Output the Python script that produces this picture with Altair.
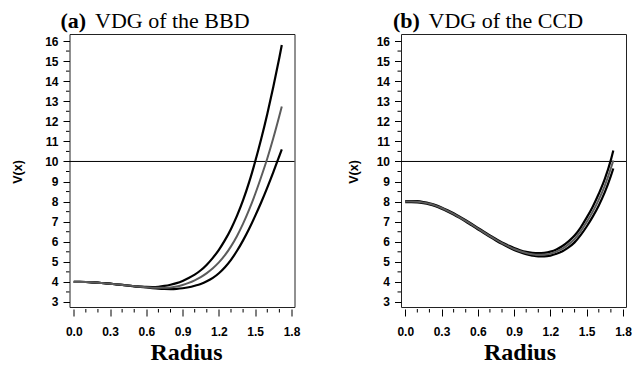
import altair as alt
import pandas as pd

# ---------------- data ----------------
RADIUS = [0.00, 0.05, 0.10, 0.15, 0.20, 0.25, 0.30, 0.35, 0.40, 0.45, 0.50, 0.55,
          0.60, 0.65, 0.70, 0.75, 0.80, 0.85, 0.90, 0.95, 1.00, 1.05, 1.10, 1.15,
          1.20, 1.25, 1.30, 1.35, 1.40, 1.45, 1.50, 1.55, 1.60, 1.65, 1.70, 1.72]

BBD_MAX = [4.00, 4.00, 3.995, 3.98, 3.96, 3.935, 3.91, 3.88, 3.85, 3.82, 3.79, 3.77,
           3.75, 3.745, 3.76, 3.80, 3.86, 3.94, 4.05, 4.19, 4.36, 4.58, 4.86, 5.20,
           5.60, 6.08, 6.64, 7.30, 8.07, 8.97, 10.00, 11.13, 12.37, 13.72, 15.18, 15.80]
BBD_AVG = [4.00, 4.00, 3.995, 3.98, 3.96, 3.935, 3.91, 3.88, 3.85, 3.82, 3.79, 3.76,
           3.735, 3.715, 3.705, 3.705, 3.725, 3.77, 3.85, 3.95, 4.08, 4.24, 4.44, 4.68,
           4.97, 5.33, 5.77, 6.29, 6.90, 7.60, 8.38, 9.24, 10.15, 11.17, 12.28, 12.74]
BBD_MIN = [4.00, 4.00, 3.995, 3.98, 3.96, 3.935, 3.91, 3.88, 3.85, 3.815, 3.78, 3.75,
           3.72, 3.69, 3.665, 3.65, 3.645, 3.655, 3.685, 3.735, 3.81, 3.90, 4.03, 4.20,
           4.43, 4.73, 5.10, 5.55, 6.07, 6.65, 7.29, 7.97, 8.70, 9.47, 10.28, 10.60]

CCD_MAX = [8.03, 8.03, 8.02, 7.98, 7.92, 7.83, 7.71, 7.57, 7.42, 7.25, 7.07, 6.885,
           6.695, 6.505, 6.315, 6.135, 5.965, 5.82, 5.685, 5.58, 5.50, 5.45, 5.43, 5.45,
           5.51, 5.62, 5.79, 6.02, 6.31, 6.71, 7.20, 7.75, 8.39, 9.13, 10.08, 10.55]
CCD_AVG = [8.00, 8.00, 7.99, 7.95, 7.89, 7.80, 7.68, 7.54, 7.39, 7.22, 7.04, 6.85,
           6.66, 6.47, 6.28, 6.10, 5.93, 5.78, 5.64, 5.53, 5.44, 5.38, 5.35, 5.36,
           5.41, 5.51, 5.66, 5.87, 6.14, 6.52, 6.98, 7.50, 8.10, 8.80, 9.66, 10.05]
CCD_MIN = [7.97, 7.97, 7.96, 7.92, 7.86, 7.77, 7.65, 7.51, 7.36, 7.19, 7.01, 6.815,
           6.625, 6.435, 6.245, 6.065, 5.895, 5.74, 5.595, 5.48, 5.38, 5.31, 5.27, 5.27,
           5.31, 5.40, 5.53, 5.72, 5.97, 6.33, 6.76, 7.25, 7.81, 8.47, 9.28, 9.65]

REF_LEVEL = [10]
X_TICKS = [0.0, 0.3, 0.6, 0.9, 1.2, 1.5, 1.8]
X_MINOR = [0.1, 0.2, 0.4, 0.5, 0.7, 0.8, 1.0, 1.1, 1.3, 1.4, 1.6, 1.7]
Y_TICKS = [3, 4, 5, 6, 7, 8, 9, 10, 11, 12, 13, 14, 15, 16]
Y_MINOR = [3.5, 4.5, 5.5, 6.5, 7.5, 8.5, 9.5, 10.5, 11.5, 12.5, 13.5, 14.5, 15.5]
PREFIXES = ["(a)", "(b)"]
PANEL_TITLES = ["VDG of the BBD", "VDG of the CCD"]
X_TITLE = "Radius"
Y_TITLE = "V(x)"

# ---------------- layout / style ----------------
W, H = 225, 273
X_DOMAIN = [-0.035, 1.825]
Y_DOMAIN = [2.75, 16.35]
SANS = "Liberation Sans"
SERIF = "Liberation Serif"
XOFF = 2


def panel(prefix, title, vmax, vavg, vmin, ytitle_x, xtitle_x, prefix_x, text_x):
    xs = alt.Scale(domain=X_DOMAIN, nice=False, zero=False)
    ys = alt.Scale(domain=Y_DOMAIN, nice=False, zero=False)
    xaxis = alt.Axis(values=X_TICKS, format=".1f", domain=False, grid=False,
                     orient="bottom", offset=XOFF, tickSize=7, tickColor="black",
                     tickWidth=1, labelFont=SANS, labelFontWeight="bold",
                     labelFontSize=12, labelColor="black", labelPadding=10,
                     labelFlush=False, labelOverlap=False,
                     title=X_TITLE, titleFont=SERIF, titleFontWeight="bold",
                     titleFontSize=24, titleColor="black", titleX=xtitle_x,
                     titleY=52 - XOFF, titleAlign="center",
                     titleBaseline="alphabetic")
    yaxis = alt.Axis(values=Y_TICKS, format="d", domain=False, grid=False,
                     orient="left", tickSize=6.5, tickColor="black", tickWidth=1,
                     labelFont=SANS, labelFontWeight="bold", labelFontSize=12,
                     labelColor="black", labelPadding=5, labelFlush=False,
                     labelOverlap=False,
                     title=Y_TITLE, titleFont=SANS, titleFontWeight="bold",
                     titleFontSize=12.5, titleColor="black", titleAngle=270,
                     titleX=ytitle_x, titleY=137.5, titleAlign="center",
                     titleBaseline="middle")

    layers = []
    # reference line
    layers.append(
        alt.Chart(pd.DataFrame({"v": REF_LEVEL})).mark_rule(
            color="black", strokeWidth=1).encode(
            y=alt.Y("v:Q", scale=ys, axis=yaxis)))
    # minor ticks
    layers.append(
        alt.Chart(pd.DataFrame({"m": Y_MINOR})).mark_rule(
            color="black", strokeWidth=1).encode(
            y=alt.Y("m:Q", scale=ys, axis=yaxis),
            x=alt.value(-3.5), x2=alt.value(0)))
    layers.append(
        alt.Chart(pd.DataFrame({"m": X_MINOR})).mark_rule(
            color="black", strokeWidth=1).encode(
            x=alt.X("m:Q", scale=xs, axis=xaxis),
            y=alt.value(H + XOFF), y2=alt.value(H + XOFF + 3.5)))
    # curves
    for vals, color, sw in [(vmax, "black", 2.2), (vmin, "black", 2.2),
                            (vavg, "#5c5c5c", 2.0)]:
        df = pd.DataFrame({"r": RADIUS, "v": vals})
        layers.append(
            alt.Chart(df).mark_line(color=color, strokeWidth=sw,
                                    interpolate="monotone").encode(
                x=alt.X("r:Q", scale=xs, axis=xaxis),
                y=alt.Y("v:Q", scale=ys, axis=yaxis)))
    # panel title
    layers.append(
        alt.Chart(pd.DataFrame({"t": [prefix]})).mark_text(
            font=SERIF, fontWeight="bold", fontSize=22, align="left",
            baseline="alphabetic", color="black").encode(
            text="t:N", x=alt.value(prefix_x), y=alt.value(-6.5)))
    layers.append(
        alt.Chart(pd.DataFrame({"t": [title]})).mark_text(
            font=SERIF, fontWeight="normal", fontSize=22, align="left",
            baseline="alphabetic", color="black").encode(
            text="t:N", x=alt.value(text_x), y=alt.value(-6.5)))
    return alt.layer(*layers).properties(width=W, height=H)


pa = panel(PREFIXES[0], PANEL_TITLES[0], BBD_MAX, BBD_AVG, BBD_MIN,
           ytitle_x=-52, xtitle_x=116.5, prefix_x=-9, text_x=25.5)
pb = panel(PREFIXES[1], PANEL_TITLES[1], CCD_MAX, CCD_AVG, CCD_MIN,
           ytitle_x=-48, xtitle_x=118.5, prefix_x=-8, text_x=27.5)

chart = alt.hconcat(pa, pb, spacing=106.5, bounds="flush").configure_view(
    stroke="#222222", strokeWidth=1
).properties(
    padding={"left": 10.5, "top": 9, "right": 6, "bottom": 6},
    background="white"
)

chart.save("out.html", embed_options={"renderer": "svg", "actions": False})
